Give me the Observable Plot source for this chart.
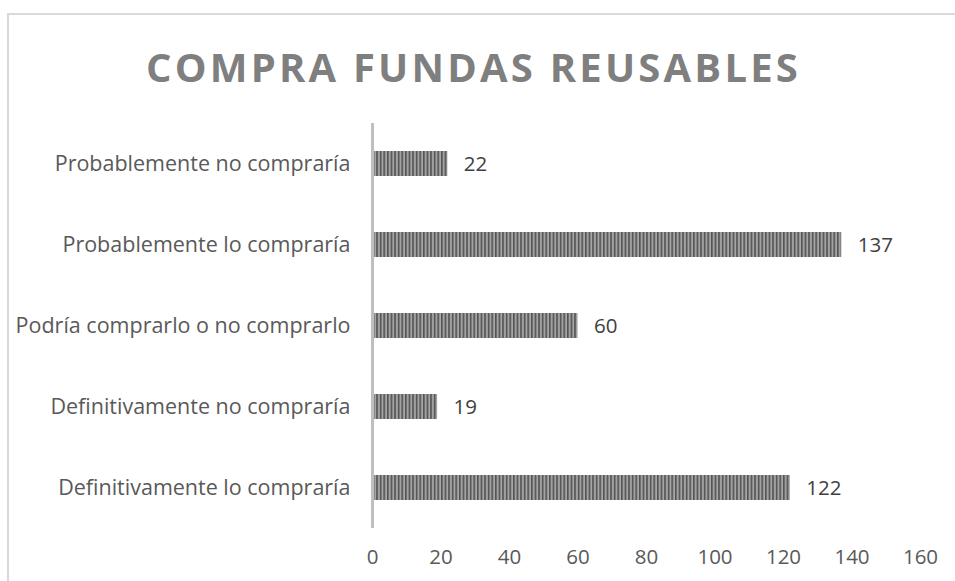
<!DOCTYPE html>
<html>
<head>
<meta charset="utf-8">
<script src="https://cdn.jsdelivr.net/npm/d3@7"></script>
<script src="https://cdn.jsdelivr.net/npm/@observablehq/plot@0.6"></script>
<style>
  html, body { margin: 0; padding: 0; background: #fff; width: 955px; height: 581px; overflow: hidden; }
  #frame { position: absolute; left: 7px; top: 13px; width: 948px; height: 568px;
           border-top: 2px solid #d9d9d9; border-left: 2px solid #d9d9d9; }
  #title { height: 95px; box-sizing: border-box; padding-left: 137px; padding-top: 32px;
           font-family: "Open Sans", sans-serif; font-weight: 700; font-size: 40px;
           color: #7f7f7f; letter-spacing: 3.2px; white-space: nowrap; line-height: 1; }
  svg { display: block; }
</style>
</head>
<body>
<div id="frame">
  <div id="title">COMPRA FUNDAS REUSABLES</div>
  <div id="chart"></div>
</div>
<script>
const categories = [
  "Probablemente no compraría",
  "Probablemente lo compraría",
  "Podría comprarlo o no comprarlo",
  "Definitivamente no compraría",
  "Definitivamente lo compraría"
];
const values = [22, 137, 60, 19, 122];
const xTicks = [0, 20, 40, 60, 80, 100, 120, 140, 160];

const data = categories.map((c, i) => ({category: c, value: values[i]}));

const plot = Plot.plot({
  width: 946,
  height: 471,
  marginLeft: 363,
  marginRight: 35,
  marginTop: 13,
  marginBottom: 53,
  style: {fontFamily: "'Open Sans', sans-serif", fontSize: "20px", color: "#595959", background: "transparent"},
  x: {domain: [0, 160], ticks: xTicks, label: null},
  y: {domain: categories, paddingInner: 0.69, paddingOuter: 0.345, label: null},
  marks: [
    Plot.barX(data, {x: "value", y: "category", fill: "url(#stripes)"}),
    Plot.ruleX([0], {stroke: "#bfbfbf", strokeWidth: 3}),
    Plot.text(data, {x: "value", y: "category", text: d => String(d.value), textAnchor: "start", dx: 16, fill: "#404040", fontSize: 20.5}),
    Plot.axisX({ticks: xTicks, tickSize: 0, tickPadding: 21, fontSize: 20.5, fill: "#595959", label: null}),
    Plot.axisY({tickSize: 0, tickPadding: 22, fontSize: 21.5, fill: "#595959", label: null})
  ]
});

const svg = d3.select(plot);
const defs = svg.insert("defs", ":first-child");
const grad = defs.append("linearGradient").attr("id", "stripeGrad")
  .attr("x1", "0").attr("x2", "1").attr("y1", "0").attr("y2", "0");
grad.append("stop").attr("offset", "0%").attr("stop-color", "#4a4a4a");
grad.append("stop").attr("offset", "45%").attr("stop-color", "#6a6a6a");
grad.append("stop").attr("offset", "75%").attr("stop-color", "#c4c4c4");
grad.append("stop").attr("offset", "100%").attr("stop-color", "#8a8a8a");
const pat = defs.append("pattern").attr("id", "stripes")
  .attr("patternUnits", "userSpaceOnUse").attr("width", 3.6).attr("height", 10);
pat.append("rect").attr("width", 3.6).attr("height", 10).attr("fill", "url(#stripeGrad)");

document.getElementById("chart").appendChild(plot);
</script>
</body>
</html>
